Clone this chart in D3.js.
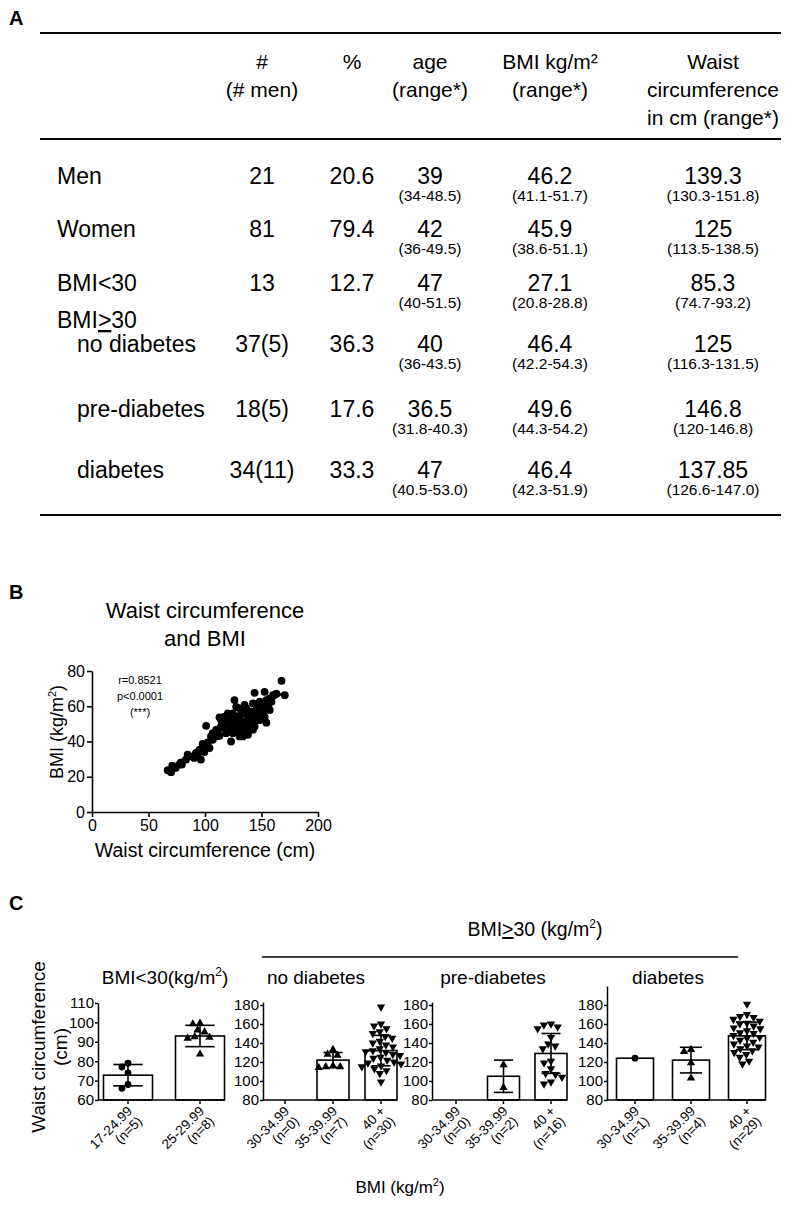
<!DOCTYPE html>
<html><head><meta charset="utf-8">
<script src="https://cdn.jsdelivr.net/npm/d3@7"></script>
<style>
body{margin:0;background:#fff}
svg{display:block}
text{font-family:Arial,"Liberation Sans",sans-serif;fill:#000}
</style>
</head><body>
<svg id="c" width="794" height="1208"></svg>
<script>
// ================= DATA =================
// Panel A – table
const headerCols = [["#","(# men)"],["%"],["age","(range*)"],["BMI kg/m²","(range*)"],["Waist","circumference","in cm (range*)"]];
const rowLabels = ["Men","Women","BMI<30","no diabetes","pre-diabetes","diabetes"];
const nMen = ["21","81","13","37(5)","18(5)","34(11)"];
const pct = ["20.6","79.4","12.7","36.3","17.6","33.3"];
const ageMed = ["39","42","47","40","36.5","47"];
const ageRange = ["(34-48.5)","(36-49.5)","(40-51.5)","(36-43.5)","(31.8-40.3)","(40.5-53.0)"];
const bmiMed = ["46.2","45.9","27.1","46.4","49.6","46.4"];
const bmiRange = ["(41.1-51.7)","(38.6-51.1)","(20.8-28.8)","(42.2-54.3)","(44.3-54.2)","(42.3-51.9)"];
const waistMed = ["139.3","125","85.3","125","146.8","137.85"];
const waistRange = ["(130.3-151.8)","(113.5-138.5)","(74.7-93.2)","(116.3-131.5)","(120-146.8)","(126.6-147.0)"];

// Panel B – scatter
const waistB = [67,70,71,74,79.5,78.6,84.6,86.6,90.5,93.5,96.4,92,99.4,101,104,102.4,101,105.3,106.8,109.8,112.8,111.3,114.2,112.8,115.7,117.2,118.7,121.7,120.2,123.1,123.1,124.6,126.1,127.6,126.1,129.1,129.1,130.6,132,133.5,133.5,135,136.5,138,138,139.5,140.9,142.4,143.9,143.9,145.4,146.9,148.4,149.9,151.3,152.8,154.3,152.8,143.9,155.8,157.3,158.8,160.2,163.2,167.7,170.6,135,132,121.7,124.6,118.7,138,140.9,142.4,130.6,135,145.4,148.4,151.3,126.1,127.6,124.6,120.2,117.2,114.2,109.8,106.8,97.9,95,83.1,77.2,140.9,136.5,132,142.4,146.9,149.9,130.6,154.3,157.3,123.1,139.5];
const bmiB = [23.7,22.6,26.3,25,26.9,28.2,32.5,31.6,30.7,32,29.7,33.5,34,37.2,36.3,39.5,48.9,42.9,41,42.9,43.2,45.7,48.5,53.7,51.3,47.5,50.4,53.2,56,40,46.6,48.9,52.2,59.7,63.5,45.7,50.4,54.1,48.5,51.3,42.9,56,58.8,46.6,53.2,50.4,56.9,61.6,54.1,48.5,57.9,52.2,62.6,56,59.7,54.1,50.7,68.2,67.6,60.7,64.4,62.6,66.3,67.2,74.4,66.3,60.7,56.9,47.5,44.7,44.7,43.8,48.5,51.3,42.9,45.7,54.1,52.2,56.9,48.5,54.1,56,50.4,54.1,52.2,46.6,44.7,38.7,35.3,29.7,26.9,52.2,48.5,45.7,46.6,59.7,61.6,58.8,63.5,57.9,52.2,55];
const fitWaist = [66,170];
const fitBmi = [23,68];
const corrText = ["r=0.8521","p<0.0001","(***)"];

// Panel C – bar/scatter groups
const groupTitles = ["BMI<30(kg/m²)","no diabetes","pre-diabetes","diabetes"];
const bmiCats = [["17-24.99","25-29.99"],["30-34.99","35-39.99","40 +"],["30-34.99","35-39.99","40 +"],["30-34.99","35-39.99","40 +"]];
const catN = [["(n=5)","(n=8)"],["(n=0)","(n=7)","(n=30)"],["(n=0)","(n=2)","(n=16)"],["(n=1)","(n=4)","(n=29)"]];
const barMean = [[72.8,93],[null,122,132],[null,105,129],[124,122,147.5]];
const barSD = [[5.5,5.5],[null,8,16],[null,17,21],[null,13.5,14.5]];
const ptsLow = [[79,77,74,68,66],[99.5,99.2,96,95,92.6,91.8,92.3,83.6]];
const ptsNoDiab = [[],[133,128,127,116,115,115,114],[178,160,158,155,152,150,147,145,142,140,138,136,134,132,131,130,128,127,125,124,122,120,119,118,116,115,113,111,108,99]];
const ptsPreDiab = [[],[117,93],[160,159,157,155,146,139,137,134,121,119,113,108,107,104,99,97]];
const ptsDiab = [[124],[133,131,119,103],[181,170,168,167,165,163,161,160,158,156,155,153,151,150,148,146,145,143,141,139,137,136,134,132,130,128,125,121,118]];
const yTicksC = [[60,70,80,90,100,110],[80,100,120,140,160,180],[80,100,120,140,160,180],[80,100,120,140,160,180]];
const yDomainC = [[60,110],[80,183],[80,183],[80,200]];
const shapes = [["circle","up"],["circle","up","down"],["circle","up","down"],["circle","up","down"]];

// ================= DRAW =================
const svg = d3.select("#c");

function ntext(g, x, y, s, size, anchor){
  return g.append("text").attr("x",x).attr("y",y)
    .attr("text-anchor",anchor||"middle").attr("font-size",size).text(s);
}
function bold(x,y,s){ svg.append("text").attr("x",x).attr("y",y).attr("font-size",20).attr("font-weight","bold").text(s); }

// ---------- A ----------
bold(9,25,"A");
const gA = svg.append("g");
[33,139,515].forEach(y=>gA.append("line").attr("x1",40).attr("x2",781).attr("y1",y).attr("y2",y).attr("stroke","#000").attr("stroke-width",2));
const colX = [262,352,430,550,713];
const hdrY = [69,97,125];
headerCols.forEach((lines,i)=>lines.forEach((s,j)=>ntext(gA,colX[i],hdrY[j],s,21)));
const rowY = [184,237,291,352,417,478];
const labX = [57,57,57,77,77,77];
rowLabels.forEach((s,i)=>ntext(gA,labX[i],rowY[i],s,23,"start"));
{ // BMI≥30 group label
  const t = gA.append("text").attr("x",57).attr("y",328).attr("font-size",23);
  t.append("tspan").text("BMI");
  t.append("tspan").text(">").attr("text-decoration","underline");
  t.append("tspan").text("30");
}
const mainCols = [nMen,pct,ageMed,bmiMed,waistMed];
mainCols.forEach((col,i)=>col.forEach((s,r)=>ntext(gA,colX[i],rowY[r],s,23)));
const subCols = [[2,ageRange],[3,bmiRange],[4,waistRange]];
subCols.forEach(([ci,col])=>col.forEach((s,r)=>ntext(gA,colX[ci],rowY[r]+17,s,15.5)));

// ---------- B ----------
bold(9,599,"B");
const gB = svg.append("g");
gB.append("text").attr("x",205).attr("y",618).attr("text-anchor","middle").attr("font-size",22).text("Waist circumference");
gB.append("text").attr("x",205).attr("y",646).attr("text-anchor","middle").attr("font-size",22).text("and BMI");
const xB = d3.scaleLinear().domain([0,200]).range([92,318]);
const yB = d3.scaleLinear().domain([0,80]).range([812,671]);
const axB = gB.append("g").attr("transform","translate(0,812)").call(d3.axisBottom(xB).tickValues([0,50,100,150,200]).tickSize(5).tickPadding(3).tickSizeOuter(0));
const ayB = gB.append("g").attr("transform","translate(92,0)").call(d3.axisLeft(yB).tickValues([0,20,40,60,80]).tickSize(5).tickPadding(2).tickSizeOuter(0));
[axB,ayB].forEach(a=>{a.selectAll("path,line").attr("stroke","#000").attr("stroke-width",1.6);a.selectAll("text").attr("font-size",16).attr("font-family","Arial,'Liberation Sans',sans-serif").attr("fill","#000");});
gB.append("g").selectAll("circle").data(waistB.map((w,i)=>[w,bmiB[i]])).join("circle")
  .attr("cx",d=>xB(d[0])).attr("cy",d=>yB(d[1])).attr("r",3.9).attr("fill","#000");
gB.append("line").attr("x1",xB(fitWaist[0])).attr("y1",yB(fitBmi[0])).attr("x2",xB(fitWaist[1])).attr("y2",yB(fitBmi[1])).attr("stroke","#000").attr("stroke-width",2);
corrText.forEach((s,i)=>gB.append("text").attr("x",140).attr("y",684+i*16).attr("text-anchor","middle").attr("font-size",11).text(s));
gB.append("text").attr("x",205).attr("y",857).attr("text-anchor","middle").attr("font-size",19.5).text("Waist circumference (cm)");
{
  const t = gB.append("text").attr("transform","translate(63,732) rotate(-90)").attr("text-anchor","middle").attr("font-size",18);
  t.append("tspan").text("BMI (kg/m");
  t.append("tspan").text("2").attr("font-size",11).attr("dy",-7);
  t.append("tspan").text(")").attr("dy",7);
}

// ---------- C ----------
bold(9,910,"C");
const gC = svg.append("g");
{
  const t = gC.append("text").attr("x",535).attr("y",936).attr("text-anchor","middle").attr("font-size",19.5);
  t.append("tspan").text("BMI");
  t.append("tspan").text(">").attr("text-decoration","underline");
  t.append("tspan").text("30 (kg/m");
  t.append("tspan").text("2").attr("font-size",12).attr("dy",-8);
  t.append("tspan").text(")").attr("dy",8);
}
gC.append("line").attr("x1",262).attr("x2",738).attr("y1",957).attr("y2",957).attr("stroke","#000").attr("stroke-width",1.5);
{
  gC.append("text").attr("transform","translate(45,1047) rotate(-90)").attr("text-anchor","middle").attr("font-size",19).text("Waist circumference");
  gC.append("text").attr("transform","translate(67,1047) rotate(-90)").attr("text-anchor","middle").attr("font-size",19).text("(cm)");
}
{
  const t = gC.append("text").attr("x",400).attr("y",1193).attr("text-anchor","middle").attr("font-size",17);
  t.append("tspan").text("BMI (kg/m");
  t.append("tspan").text("2").attr("font-size",11).attr("dy",-7);
  t.append("tspan").text(")").attr("dy",7);
}

const layout = [
  {axisX:98, first:128, step:72, barW:49, titleX:165},
  {axisX:263, first:285, step:48, barW:32, titleX:316},
  {axisX:432, first:456, step:47.5, barW:32, titleX:493},
  {axisX:607, first:635, step:56, barW:37, titleX:668}
];
const allPts = [ptsLow, ptsNoDiab, ptsPreDiab, ptsDiab];
const baseY = 1100, topRef = 1005;

function beeswarm(vals, ys, r){
  const order = vals.map((v,i)=>i).sort((a,b)=>vals[b]-vals[a]);
  const placed = []; const out = new Array(vals.length);
  order.forEach(i=>{
    const y = ys[i]; const blocked = [];
    placed.forEach(p=>{ const dy = Math.abs(p.y-y); if(dy<2*r){ const w=Math.sqrt(4*r*r-dy*dy); blocked.push([p.x-w,p.x+w]); }});
    const cands = [0]; blocked.forEach(b=>{cands.push(b[0]-0.01,b[1]+0.01);});
    cands.sort((a,b)=>Math.abs(a)-Math.abs(b) || a-b);
    let x = cands.find(c=>blocked.every(b=>c<=b[0]||c>=b[1]));
    placed.push({x,y}); out[i]=x;
  });
  return out;
}

groupTitles.forEach((title,gi)=>{
  const L = layout[gi];
  const g = gC.append("g");
  const dom = yDomainC[gi];
  const ticksA = yTicksC[gi];
  const y = d3.scaleLinear().domain([ticksA[0],ticksA[ticksA.length-1]]).range([baseY, gi===0?1003:topRef]);
  const cats = bmiCats[gi];
  const x = d3.scalePoint().domain(cats).range([L.first, L.first+L.step*(cats.length-1)]);
  // title
  g.append("text").attr("x",L.titleX).attr("y",984).attr("text-anchor","middle").attr("font-size",19)
    .call(t=>{
      if(title.includes("²")){
        const base=title.replace("²)","");
        t.append("tspan").text(base);
        t.append("tspan").text("2").attr("font-size",12).attr("dy",-8);
        t.append("tspan").text(")").attr("dy",8);
      } else t.text(title);
    });
  // bars
  cats.forEach((c,ci)=>{
    const m = barMean[gi][ci];
    if(m==null) return;
    const cx = x(c);
    g.append("rect").attr("x",cx-L.barW/2).attr("y",y(m)).attr("width",L.barW).attr("height",baseY-y(m))
      .attr("fill","#fff").attr("stroke","#000").attr("stroke-width",1.6);
  });
  // points
  cats.forEach((c,ci)=>{
    const vals = allPts[gi][ci];
    if(!vals.length) return;
    const ys = vals.map(v=>y(v));
    const offs = beeswarm(vals, ys, 3.6);
    const cx = x(c);
    const shp = shapes[gi][ci];
    vals.forEach((v,k)=>{
      if(shp==="circle") g.append("circle").attr("cx",cx+offs[k]).attr("cy",ys[k]).attr("r",3.4).attr("fill","#000");
      else g.append("path").attr("d",d3.symbol(d3.symbolTriangle,30)())
        .attr("transform",`translate(${cx+offs[k]},${ys[k]}) rotate(${shp==="down"?180:0})`).attr("fill","#000");
    });
  });
  // error bars
  cats.forEach((c,ci)=>{
    const m = barMean[gi][ci], s = barSD[gi][ci];
    if(m==null||s==null) return;
    const cx = x(c), cw = L.barW*0.3;
    g.append("line").attr("x1",cx).attr("x2",cx).attr("y1",y(m+s)).attr("y2",y(m-s)).attr("stroke","#000").attr("stroke-width",1.6);
    [m+s,m-s].forEach(v=>g.append("line").attr("x1",cx-cw).attr("x2",cx+cw).attr("y1",y(v)).attr("y2",y(v)).attr("stroke","#000").attr("stroke-width",1.6));
  });
  // y axis
  const yAxisScale = y.copy().domain(dom).range([y(dom[0]),y(dom[1])]);
  const ay = g.append("g").attr("transform",`translate(${L.axisX},0)`)
    .call(d3.axisLeft(yAxisScale).tickValues(ticksA).tickSize(3).tickPadding(1).tickSizeOuter(0));
  ay.selectAll("path,line").attr("stroke","#000").attr("stroke-width",1.5);
  ay.selectAll("text").attr("font-size",15).attr("font-family","Arial,'Liberation Sans',sans-serif").attr("fill","#000");
  // x axis
  const xEnd = L.first + L.step*(cats.length-1) + L.barW/2;
  g.append("line").attr("x1",L.axisX).attr("x2",xEnd).attr("y1",baseY).attr("y2",baseY).attr("stroke","#000").attr("stroke-width",1.6);
  cats.forEach((c,ci)=>{
    const cx = x(c);
    g.append("line").attr("x1",cx).attr("x2",cx).attr("y1",baseY).attr("y2",baseY+4).attr("stroke","#000").attr("stroke-width",1.5);
    const t = g.append("text").attr("transform",`translate(${cx+5},${baseY+12}) rotate(-45)`).attr("text-anchor","end").attr("font-size",13.5);
    t.append("tspan").attr("x",0).attr("dy",0).text(c);
    t.append("tspan").attr("x",0).attr("dy","1.05em").text(catN[gi][ci]);
  });
});
</script>
</body></html>
